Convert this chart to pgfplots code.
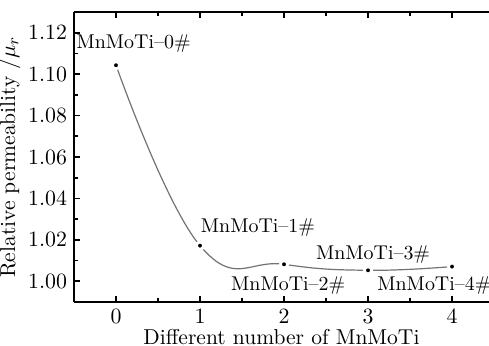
\documentclass[border=0pt]{standalone}
\usepackage{pgfplots}
\pgfplotsset{compat=1.18}
\usetikzlibrary{calc}
\begin{document}
\begin{tikzpicture}
\begin{axis}[
  scale only axis,
  width=207.5bp, height=145bp,
  xmin=-0.5, xmax=4.44,
  ymin=0.99, ymax=1.13,
  axis y line*=left,
  axis line style={line width=0.9bp},
  every tick/.style={line width=0.8bp, black},
  tick align=inside,
  major tick length=3.2bp,
  minor tick length=1.8bp,
  xtick={0,1,2,3,4},
  minor xtick={-0.5,0.5,1.5,2.5,3.5},
  ytick={1.00,1.02,1.04,1.06,1.08,1.10,1.12},
  minor ytick={1.01,1.03,1.05,1.07,1.09,1.11},
  yticklabel style={/pgf/number format/fixed, /pgf/number format/fixed zerofill, /pgf/number format/precision=2, font=\fontsize{11}{12}\selectfont},
  xticklabel style={font=\fontsize{11}{12}\selectfont},
  xlabel={Different number of MnMoTi},
  ylabel={Relative permeability /$\mu_r$},
  label style={font=\fontsize{10.8}{12}\selectfont},
  xlabel style={yshift=3.5bp},
  ylabel style={yshift=-3bp},
  clip=false,
]
\addplot[smooth, tension=0.75, black!55, line width=0.6bp] coordinates {
 (0,1.1043) (1,1.0172) (2,1.0082) (3,1.0053) (4,1.0071)};
\addplot[only marks, mark=*, mark size=1.8bp, mark options={fill=black, draw=white, line width=1.4bp}] coordinates {
 (0,1.1043) (1,1.0172) (2,1.0082) (3,1.0053) (4,1.0071)};
\begin{scope}[every node/.style={font=\fontsize{10}{11}\selectfont, inner sep=0pt}]
\node at (axis cs:0.21,1.1147) {MnMoTi--0\#};
\node at (axis cs:1.69,1.0258) {MnMoTi--1\#};
\node at (axis cs:2.05,0.9979) {MnMoTi--2\#};
\node at (axis cs:3.06,1.0128) {MnMoTi--3\#};
\node at (axis cs:3.79,0.9979) {MnMoTi--4\#};
\end{scope}
\end{axis}
\pgfresetboundingbox
\path ($(current axis.south west)+(-37bp,-22bp)$) rectangle ($(current axis.north east)+(0,6bp)$);
\end{tikzpicture}
\end{document}
